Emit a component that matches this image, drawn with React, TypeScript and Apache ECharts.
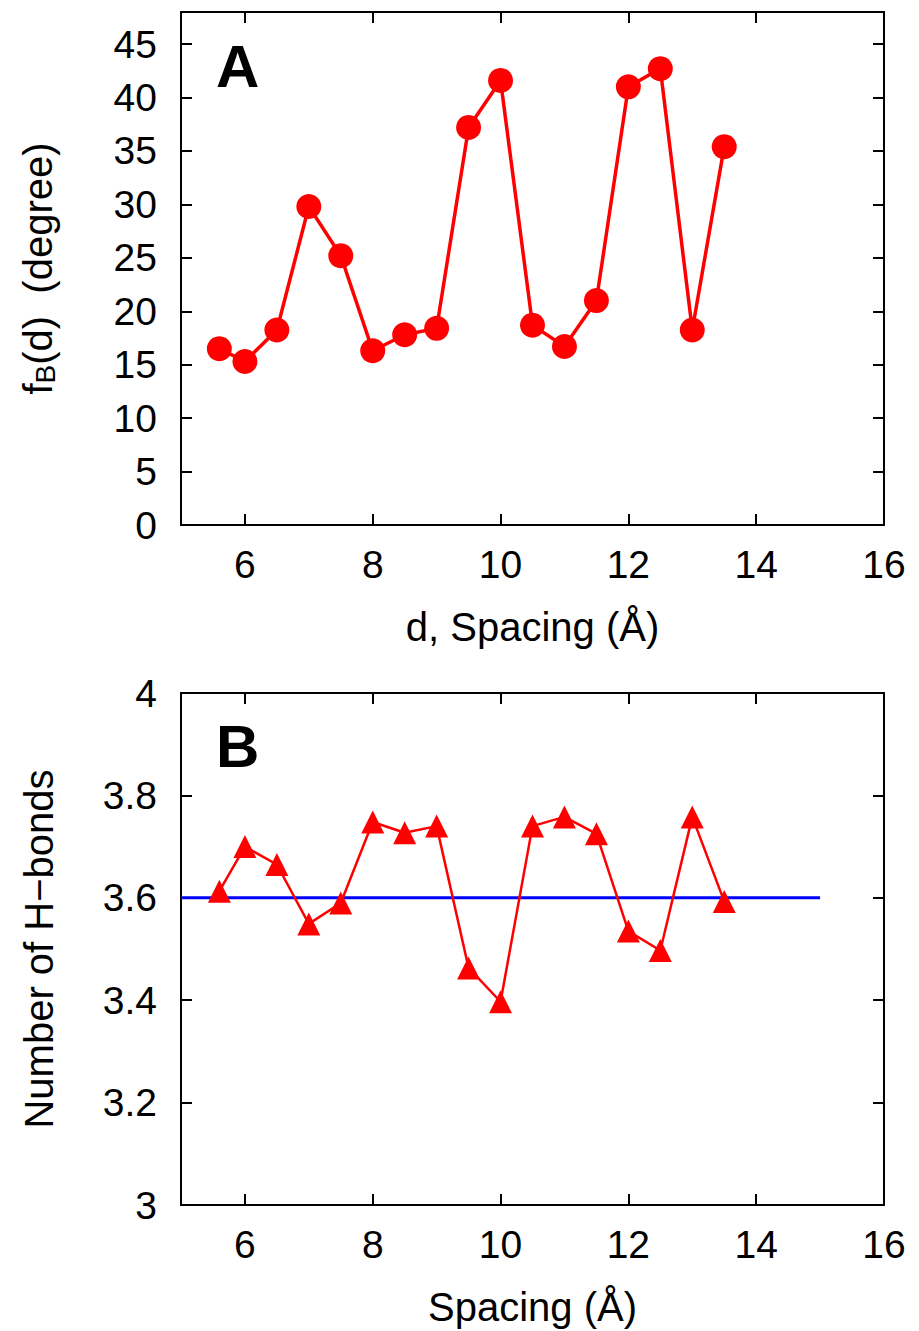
import React, { useEffect, useRef } from "react";
import * as echarts from "echarts";

// ---- data ----
const spacing = [5.6, 6, 6.5, 7, 7.5, 8, 8.5, 9, 9.5, 10, 10.5, 11, 11.5, 12, 12.5, 13, 13.5];
const fBValues = [16.5, 15.3, 18.25, 29.8, 25.2, 16.3, 17.8, 18.4, 37.2, 41.6, 18.7, 16.7, 21.0, 41.0, 42.7, 18.25, 35.4];
const hBonds = [3.613, 3.7, 3.665, 3.549, 3.59, 3.748, 3.727, 3.74, 3.463, 3.397, 3.74, 3.758, 3.725, 3.535, 3.497, 3.758, 3.593];
const refLineX = [5, 15];
const refLineY = 3.6;

const xTickValues = [6, 8, 10, 12, 14];
const xLabelValues = [6, 8, 10, 12, 14, 16];
const yTickValuesA = [5, 10, 15, 20, 25, 30, 35, 40, 45];
const yLabelValuesA = [0, 5, 10, 15, 20, 25, 30, 35, 40, 45];
const yTickValuesB = [3.2, 3.4, 3.6, 3.8];
const yLabelValuesB = [3, 3.2, 3.4, 3.6, 3.8, 4];

const FONT = "'Liberation Sans', Arial, Helvetica, sans-serif";
const BLACK = "#000";
const RED = "#ff0000";
const BLUE = "#0000ff";

function xAxisCfg(gridIndex: number, position: "bottom" | "top", name?: string) {
  const isBottom = position === "bottom";
  return {
    type: "value",
    gridIndex,
    position,
    min: 5,
    max: 16,
    axisLine: { show: true, onZero: false, lineStyle: { color: BLACK, width: 2 } },
    axisTick: { show: true, inside: true, length: 11, customValues: xTickValues, lineStyle: { color: BLACK, width: 2 } },
    axisLabel: {
      show: isBottom,
      customValues: xLabelValues,
      fontSize: 39,
      color: BLACK,
      fontFamily: FONT,
      margin: 20,
    },
    splitLine: { show: false },
    name: isBottom ? name : undefined,
    nameLocation: "middle",
    nameGap: 82,
    nameTextStyle: { fontSize: 40, color: BLACK, fontFamily: FONT },
  };
}

function yAxisCfg(
  gridIndex: number,
  position: "left" | "right",
  min: number,
  max: number,
  ticks: number[],
  labels: number[],
  name?: any,
  rich?: any
) {
  const isLeft = position === "left";
  return {
    type: "value",
    gridIndex,
    position,
    min,
    max,
    axisLine: { show: true, onZero: false, lineStyle: { color: BLACK, width: 2 } },
    axisTick: { show: true, inside: true, length: 11, customValues: ticks, lineStyle: { color: BLACK, width: 2 } },
    axisLabel: {
      show: isLeft,
      customValues: labels,
      fontSize: 39,
      color: BLACK,
      fontFamily: FONT,
      margin: 24,
    },
    splitLine: { show: false },
    name: isLeft ? name : undefined,
    nameLocation: "middle",
    nameRotate: 90,
    nameGap: 122,
    nameTextStyle: { fontSize: 40, color: BLACK, fontFamily: FONT, rich },
  };
}

export default function App() {
  const ref = useRef<HTMLDivElement>(null);

  useEffect(() => {
    document.body.style.margin = "0";
    if (!ref.current) return;
    const chart = echarts.init(ref.current, null, { renderer: "svg" });

    const richName = {
      base: { fontSize: 40, color: BLACK, fontFamily: FONT },
      sub: { fontSize: 28, color: BLACK, fontFamily: FONT, padding: [14, 0, 0, 0] },
    };

    chart.setOption({
      animation: false,
      backgroundColor: "#fff",
      grid: [
        { left: 181, top: 12, width: 703, height: 513, containLabel: false },
        { left: 181, top: 693, width: 703, height: 512, containLabel: false },
      ],
      xAxis: [
        xAxisCfg(0, "bottom", "d, Spacing (Å)"),
        xAxisCfg(0, "top"),
        xAxisCfg(1, "bottom", "Spacing (Å)"),
        xAxisCfg(1, "top"),
      ],
      yAxis: [
        yAxisCfg(0, "left", 0, 48, yTickValuesA, yLabelValuesA, "{base|f}{sub|B}{base|(d)  (degree)}", richName),
        yAxisCfg(0, "right", 0, 48, yTickValuesA, yLabelValuesA),
        yAxisCfg(1, "left", 3, 4, yTickValuesB, yLabelValuesB, "Number of H\u2212bonds"),
        yAxisCfg(1, "right", 3, 4, yTickValuesB, yLabelValuesB),
      ],
      series: [
        {
          type: "line",
          xAxisIndex: 0,
          yAxisIndex: 0,
          data: spacing.map((x, i) => [x, fBValues[i]]),
          symbol: "circle",
          symbolSize: 25,
          showAllSymbol: true,
          lineStyle: { color: RED, width: 3.5 },
          itemStyle: { color: RED },
          z: 3,
        },
        {
          type: "line",
          xAxisIndex: 2,
          yAxisIndex: 2,
          data: refLineX.map((x) => [x, refLineY]),
          symbol: "none",
          lineStyle: { color: BLUE, width: 3 },
          z: 2,
        },
        {
          type: "line",
          xAxisIndex: 2,
          yAxisIndex: 2,
          data: spacing.map((x, i) => [x, hBonds[i]]),
          symbol: "triangle",
          symbolSize: 23,
          showAllSymbol: true,
          lineStyle: { color: RED, width: 2.5 },
          itemStyle: { color: RED },
          z: 3,
        },
      ],
      graphic: [
        {
          type: "text",
          left: 216,
          top: 36,
          style: { text: "A", fontSize: 60, fontWeight: "bold", fill: BLACK, fontFamily: FONT },
        },
        {
          type: "text",
          left: 216,
          top: 716,
          style: { text: "B", fontSize: 60, fontWeight: "bold", fill: BLACK, fontFamily: FONT },
        },
      ],
    });

    return () => chart.dispose();
  }, []);

  return <div ref={ref} style={{ width: 919, height: 1331 }} />;
}
